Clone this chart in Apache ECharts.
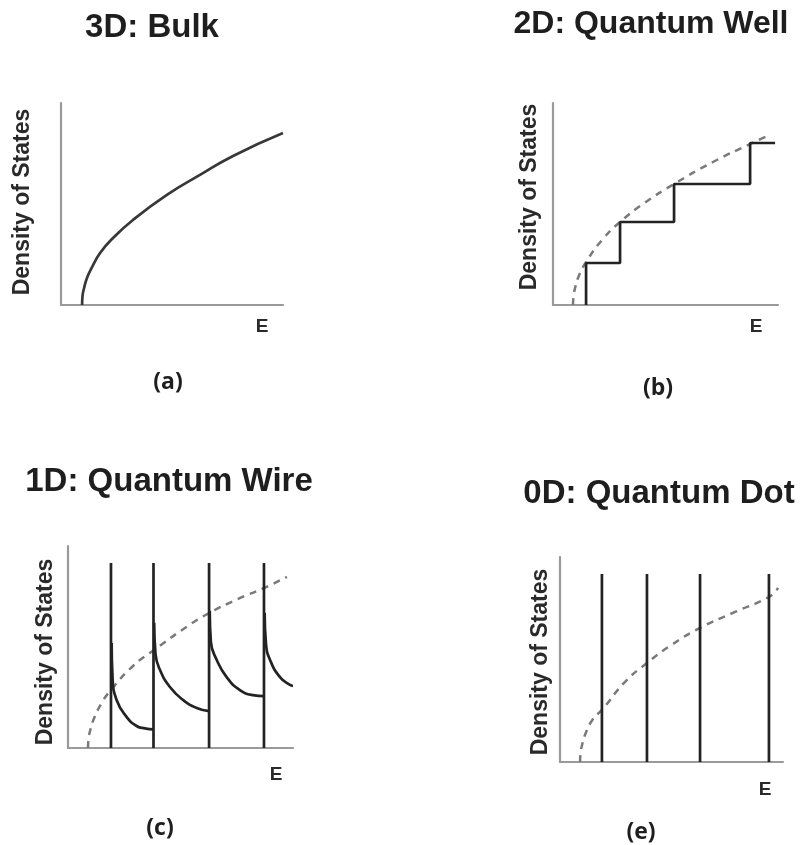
<!DOCTYPE html>
<html>
<head>
<meta charset="utf-8">
<script src="https://cdn.jsdelivr.net/npm/echarts@6/dist/echarts.min.js"></script>
<style>
  html, body { margin: 0; padding: 0; background: #fff; }
  #chart { width: 804px; height: 845px; }
</style>
</head>
<body>
<div id="chart"></div>
<script>
// Density of states vs. energy for 3D, 2D, 1D and 0D systems (arbitrary units, 0-100).

// 3D bulk: square-root rise above the band edge
const bulkE   = [9.5, 9.7, 10.4, 11.7, 14.0, 17.6, 23.0, 32.4, 47.7, 62.6, 77.5, 100];
const bulkDOS = [0, 4.5, 8.4, 13.4, 18.8, 25.7, 32.7, 42.1, 54.5, 64.4, 73.8, 85.1];

// 2D quantum well: staircase plus the bulk reference (dashed)
const wellEdges  = [14.7, 29.8, 53.8, 87.6];
const wellLevels = [20.8, 41.1, 59.9, 80.2];
const wellEndE   = 98.7;
const wellRefE   = [8.9, 9.1, 9.8, 11.1, 14.7, 22.2, 29.8, 40.0, 53.8, 71.1, 87.6, 96.4];
const wellRefDOS = [0, 4.2, 8.4, 13.4, 21.3, 32.7, 41.1, 50.0, 59.9, 70.8, 79.7, 84.2];

// 1D quantum wire: sub-band spikes with decaying tails
const wireEdges = [19.1, 38.0, 62.7, 87.1];
const wirePeak  = 91.6;
const wireTailE = [
  [19.4, 19.8, 21.6, 26.1, 30.5, 34.2, 38.0],
  [38.3, 38.9, 40.9, 45.3, 51.1, 57.2, 62.7],
  [63.0, 63.5, 66.1, 70.5, 76.4, 82.2, 87.1],
  [87.4, 88.0, 89.8, 94.2, 98.7, 100]
];
const wireTailDOS = [
  [52.0, 35.0, 23.8, 15.3, 10.9, 9.7, 9.2],
  [62.0, 46.5, 38.6, 30.2, 23.8, 19.8, 18.3],
  [68.0, 52.5, 43.6, 35.1, 28.7, 26.2, 25.7],
  [67.0, 51.5, 43.6, 35.1, 31.2, 30.7]
];
const wireRefE   = [8.9, 9.1, 9.8, 11.1, 14.7, 19.1, 28.9, 38.2, 53.3, 62.7, 75.6, 87.1, 97.3];
const wireRefDOS = [0, 4.3, 8.4, 13.4, 21.8, 28.7, 40.6, 48.5, 60.4, 66.8, 73.8, 79.2, 84.7];

// 0D quantum dot: discrete levels
const dotLevels = [18.8, 39.0, 62.8, 93.7];
const dotPeak   = 91.7;
const dotRefE   = [9.0, 9.2, 9.9, 11.2, 14.8, 18.8, 29.1, 39.0, 49.3, 62.8, 78.5, 93.7, 97.8];
const dotRefDOS = [0, 4.1, 8.3, 13.2, 21.0, 25.4, 39.0, 48.3, 56.6, 65.4, 73.2, 80.5, 84.9];

// Panel captions
const panelTitles = ['3D: Bulk', '2D: Quantum Well', '1D: Quantum Wire', '0D: Quantum Dot'];
const panelTags   = ['(a)', '(b)', '(c)', '(e)'];
const yLabel = 'Density of States';
const xLabel = 'E';

const zip = (xs, ys) => xs.map((x, i) => [x, ys[i]]);

const SOLID = '#232323';
const DASH = '#7a7a7a';
const AXIS = '#9a9a9a';

const grids = [
  { left: 61,  top: 103, width: 222, height: 202 },
  { left: 553, top: 103, width: 225, height: 202 },
  { left: 68,  top: 546, width: 225, height: 202 },
  { left: 560, top: 557, width: 223, height: 205 }
];

const axisBase = {
  type: 'value', min: 0, max: 100,
  axisLine: { show: true, onZero: false, lineStyle: { color: AXIS, width: 2.2 } },
  axisTick: { show: false }, axisLabel: { show: false }, splitLine: { show: false }
};
const xAxes = grids.map((g, i) => Object.assign({ gridIndex: i }, axisBase));
const yAxes = grids.map((g, i) => Object.assign({ gridIndex: i }, axisBase));

function solid(i, data, extra) {
  return Object.assign({
    type: 'line', xAxisIndex: i, yAxisIndex: i, data: data, symbol: 'none',
    lineStyle: { color: SOLID, width: 2.7 }, z: 3
  }, extra || {});
}
function dashed(i, data) {
  return {
    type: 'line', xAxisIndex: i, yAxisIndex: i, data: data, symbol: 'none',
    smooth: 0.5,
    lineStyle: { color: DASH, width: 2.5, type: [7, 6] }, z: 2
  };
}

const series = [];
// (a)
series.push(solid(0, zip(bulkE, bulkDOS), { smooth: 0.5, lineStyle: { color: '#383838', width: 2.7 } }));
// (b)
const stairs = [[wellEdges[0], 0]].concat(zip(wellEdges, wellLevels), [[wellEndE, wellLevels[wellLevels.length - 1]]]);
series.push(solid(1, stairs, { step: 'end' }));
series.push(dashed(1, zip(wellRefE, wellRefDOS)));
// (c)
wireEdges.forEach((e, k) => {
  series.push(solid(2, [[e, 0], [e, wirePeak]]));
  series.push(solid(2, zip(wireTailE[k], wireTailDOS[k]), { smooth: 0.5 }));
});
series.push(dashed(2, zip(wireRefE, wireRefDOS)));
// (e)
dotLevels.forEach(e => series.push(solid(3, [[e, 0], [e, dotPeak]])));
series.push(dashed(3, zip(dotRefE, dotRefDOS)));

// Caption text
const titlePos  = [[152, 28], [651, 24], [169, 482], [659, 494]];
const titleSize = [33, 32, 33, 33];
const tagPos    = [[168, 382], [658, 388], [160, 828], [641, 832]];
const ePos      = [[262, 327], [756, 327], [276, 775], [765, 790]];
const yLabPos   = [[23, 202], [530, 197], [46, 652], [541, 662]];

const graphics = [];
panelTitles.forEach((t, i) => graphics.push({
  type: 'text', x: titlePos[i][0], y: titlePos[i][1],
  style: { text: t, font: 'bold ' + titleSize[i] + 'px "Liberation Sans", Arial, sans-serif', fill: '#1e1e1e', textAlign: 'center', textVerticalAlign: 'middle' }
}));
panelTags.forEach((t, i) => graphics.push({
  type: 'text', x: tagPos[i][0], y: tagPos[i][1],
  style: { text: t, font: 'bold 23px "Open Sans", sans-serif', fill: '#1e1e1e', textAlign: 'center', textVerticalAlign: 'middle' }
}));
ePos.forEach(p => graphics.push({
  type: 'text', x: p[0], y: p[1],
  style: { text: xLabel, font: 'bold 19px "Liberation Sans", Arial, sans-serif', fill: '#2a2a2a', textAlign: 'center', textVerticalAlign: 'middle' }
}));
yLabPos.forEach(p => graphics.push({
  type: 'text', x: p[0], y: p[1], rotation: Math.PI / 2,
  style: { text: yLabel, font: 'bold 23px "Liberation Sans", Arial, sans-serif', fill: '#2a2a2a', textAlign: 'center', textVerticalAlign: 'middle' }
}));

const chart = echarts.init(document.getElementById('chart'), null, { renderer: 'canvas' });
chart.setOption({
  animation: false,
  backgroundColor: '#fff',
  grid: grids,
  xAxis: xAxes,
  yAxis: yAxes,
  series: series,
  graphic: graphics
});
</script>
</body>
</html>
